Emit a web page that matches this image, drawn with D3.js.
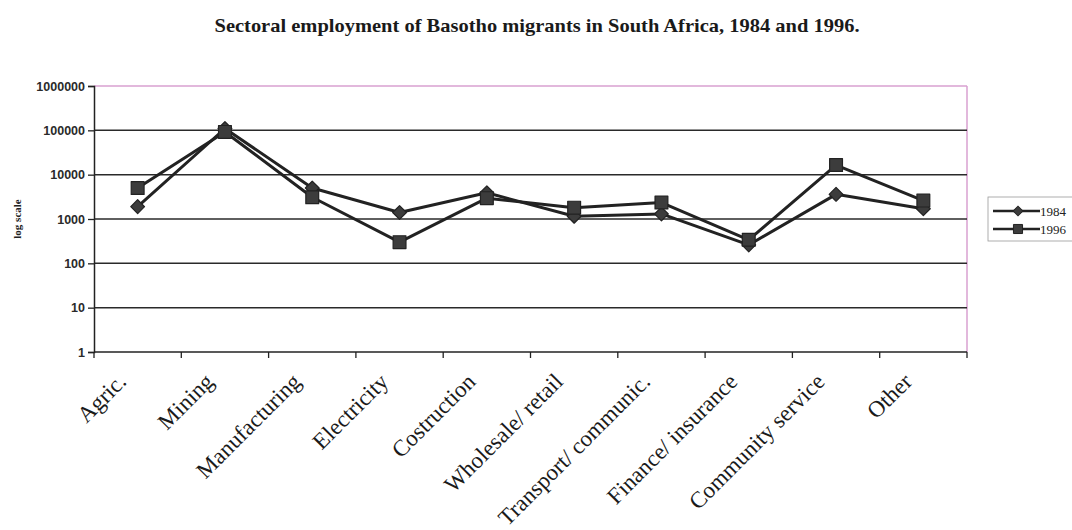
<!DOCTYPE html>
<html>
<head>
<meta charset="utf-8">
<script src="https://cdn.jsdelivr.net/npm/d3@7/dist/d3.min.js"></script>
<style>
  html, body { margin: 0; padding: 0; background: #fff; }
  svg { display: block; }
</style>
</head>
<body>
<svg id="chart" width="1072" height="530"></svg>
<script>
// Sectors and employment counts (log scale)
const sectors = ["Agric.", "Mining", "Manufacturing", "Electricity", "Costruction",
  "Wholesale/ retail", "Transport/ communic.", "Finance/ insurance", "Community service", "Other"];
const emp1984 = [1900, 110000, 5000, 1400, 3900, 1150, 1300, 260, 3600, 1700];
const emp1996 = [5000, 92000, 3100, 300, 2950, 1800, 2350, 340, 16500, 2600];
const yTicks = [1, 10, 100, 1000, 10000, 100000, 1000000];
const seriesNames = ["1984", "1996"];

const svg = d3.select("#chart");
const plotLeft = 94, plotRight = 967, plotTop = 86, plotBottom = 352;
const serif = "Liberation Serif, Times New Roman, serif";

const x = d3.scaleBand().domain(sectors).range([plotLeft, plotRight]);
const y = d3.scaleLog().domain([1, 1000000]).range([plotBottom, plotTop]);

// Title
svg.append("text")
  .attr("x", 537).attr("y", 32)
  .attr("text-anchor", "middle")
  .attr("font-family", serif)
  .attr("font-weight", "bold").attr("font-size", 19.5)
  .attr("fill", "#1a1a1a")
  .attr("textLength", 645).attr("lengthAdjust", "spacingAndGlyphs")
  .text("Sectoral employment of Basotho migrants in South Africa, 1984 and 1996.");

// Plot frame (top and right edges)
svg.append("line").attr("x1", plotLeft).attr("x2", plotRight).attr("y1", plotTop).attr("y2", plotTop)
  .attr("stroke", "#d9a0d0").attr("stroke-width", 1.5);
svg.append("line").attr("x1", plotRight).attr("x2", plotRight).attr("y1", plotTop).attr("y2", plotBottom)
  .attr("stroke", "#d9a0d0").attr("stroke-width", 1.5);

// Gridlines
svg.append("g").selectAll("line").data(yTicks.slice(1, -1)).join("line")
  .attr("x1", plotLeft).attr("x2", plotRight)
  .attr("y1", d => y(d)).attr("y2", d => y(d))
  .attr("stroke", "#2a2a2a").attr("stroke-width", 1.5);

// Y axis
const yAxis = svg.append("g").attr("transform", `translate(${plotLeft},0)`)
  .call(d3.axisLeft(y).tickValues(yTicks).tickFormat(d3.format("d")).tickSize(6).tickPadding(3));
yAxis.select(".domain").attr("stroke", "#222").attr("stroke-width", 1.5);
yAxis.selectAll(".tick line").attr("stroke", "#222").attr("stroke-width", 1.3);
yAxis.selectAll("text")
  .attr("font-family", "Liberation Sans, Arial, sans-serif")
  .attr("font-size", 12.5).attr("font-weight", "bold").attr("fill", "#2a2a2a");

// X axis: ticks at band boundaries
const xAxisG = svg.append("g");
xAxisG.append("line").attr("x1", plotLeft).attr("x2", plotRight).attr("y1", plotBottom).attr("y2", plotBottom)
  .attr("stroke", "#222").attr("stroke-width", 1.5);
const boundaries = sectors.map(s => x(s)).concat([plotRight]);
xAxisG.selectAll("line.tk").data(boundaries).join("line").attr("class", "tk")
  .attr("x1", d => d).attr("x2", d => d).attr("y1", plotBottom).attr("y2", plotBottom + 6)
  .attr("stroke", "#222").attr("stroke-width", 1.3);
xAxisG.selectAll("text").data(sectors).join("text")
  .attr("transform", d => `translate(${x(d) + x.bandwidth() / 2 - 10},${plotBottom + 31}) rotate(-45)`)
  .attr("text-anchor", "end")
  .attr("font-family", serif)
  .attr("font-size", 23).attr("fill", "#1a1a1a")
  .text(d => d);

// Y axis title
svg.append("text")
  .attr("transform", "translate(21,219) rotate(-90)")
  .attr("text-anchor", "middle")
  .attr("font-family", serif)
  .attr("font-size", 11).attr("font-weight", "bold").attr("fill", "#222")
  .text("log scale");

// Series lines and markers
const cx = d => x(d) + x.bandwidth() / 2;
const line = d3.line().x(d => cx(d.s)).y(d => y(d.v));
const series = [
  { name: seriesNames[0], values: emp1984, symbol: d3.symbolSquare, size: 95, rot: 45 },
  { name: seriesNames[1], values: emp1996, symbol: d3.symbolSquare, size: 165, rot: 0 }
];
series.forEach(s => {
  const pts = sectors.map((sec, i) => ({ s: sec, v: s.values[i] }));
  svg.append("path").datum(pts).attr("d", line)
    .attr("fill", "none").attr("stroke", "#222").attr("stroke-width", 3)
    .attr("stroke-linejoin", "round");
  svg.append("g").selectAll("path").data(pts).join("path")
    .attr("transform", d => `translate(${cx(d.s)},${y(d.v)}) rotate(${s.rot})`)
    .attr("d", d3.symbol().type(s.symbol).size(s.size))
    .attr("fill", "#3c3c3c").attr("stroke", "#222").attr("stroke-width", 1.2)
    .attr("stroke-linejoin", "round");
});

// Legend
const lg = svg.append("g").attr("transform", "translate(988,197)");
lg.append("rect").attr("x", 0).attr("y", 0).attr("width", 90).attr("height", 44)
  .attr("fill", "#fff").attr("stroke", "#999").attr("stroke-width", 0.8);
series.forEach((s, i) => {
  const yy = 14 + i * 18;
  lg.append("line").attr("x1", 5).attr("x2", 52).attr("y1", yy).attr("y2", yy)
    .attr("stroke", "#222").attr("stroke-width", 2.4);
  lg.append("path").attr("transform", `translate(30,${yy}) rotate(${s.rot})`)
    .attr("d", d3.symbol().type(s.symbol).size(s.size * 0.5))
    .attr("fill", "#3c3c3c").attr("stroke", "#222");
  lg.append("text").attr("x", 52).attr("y", yy + 4.5)
    .attr("font-family", serif)
    .attr("font-size", 13).attr("fill", "#222")
    .text(s.name);
});
</script>
</body>
</html>
